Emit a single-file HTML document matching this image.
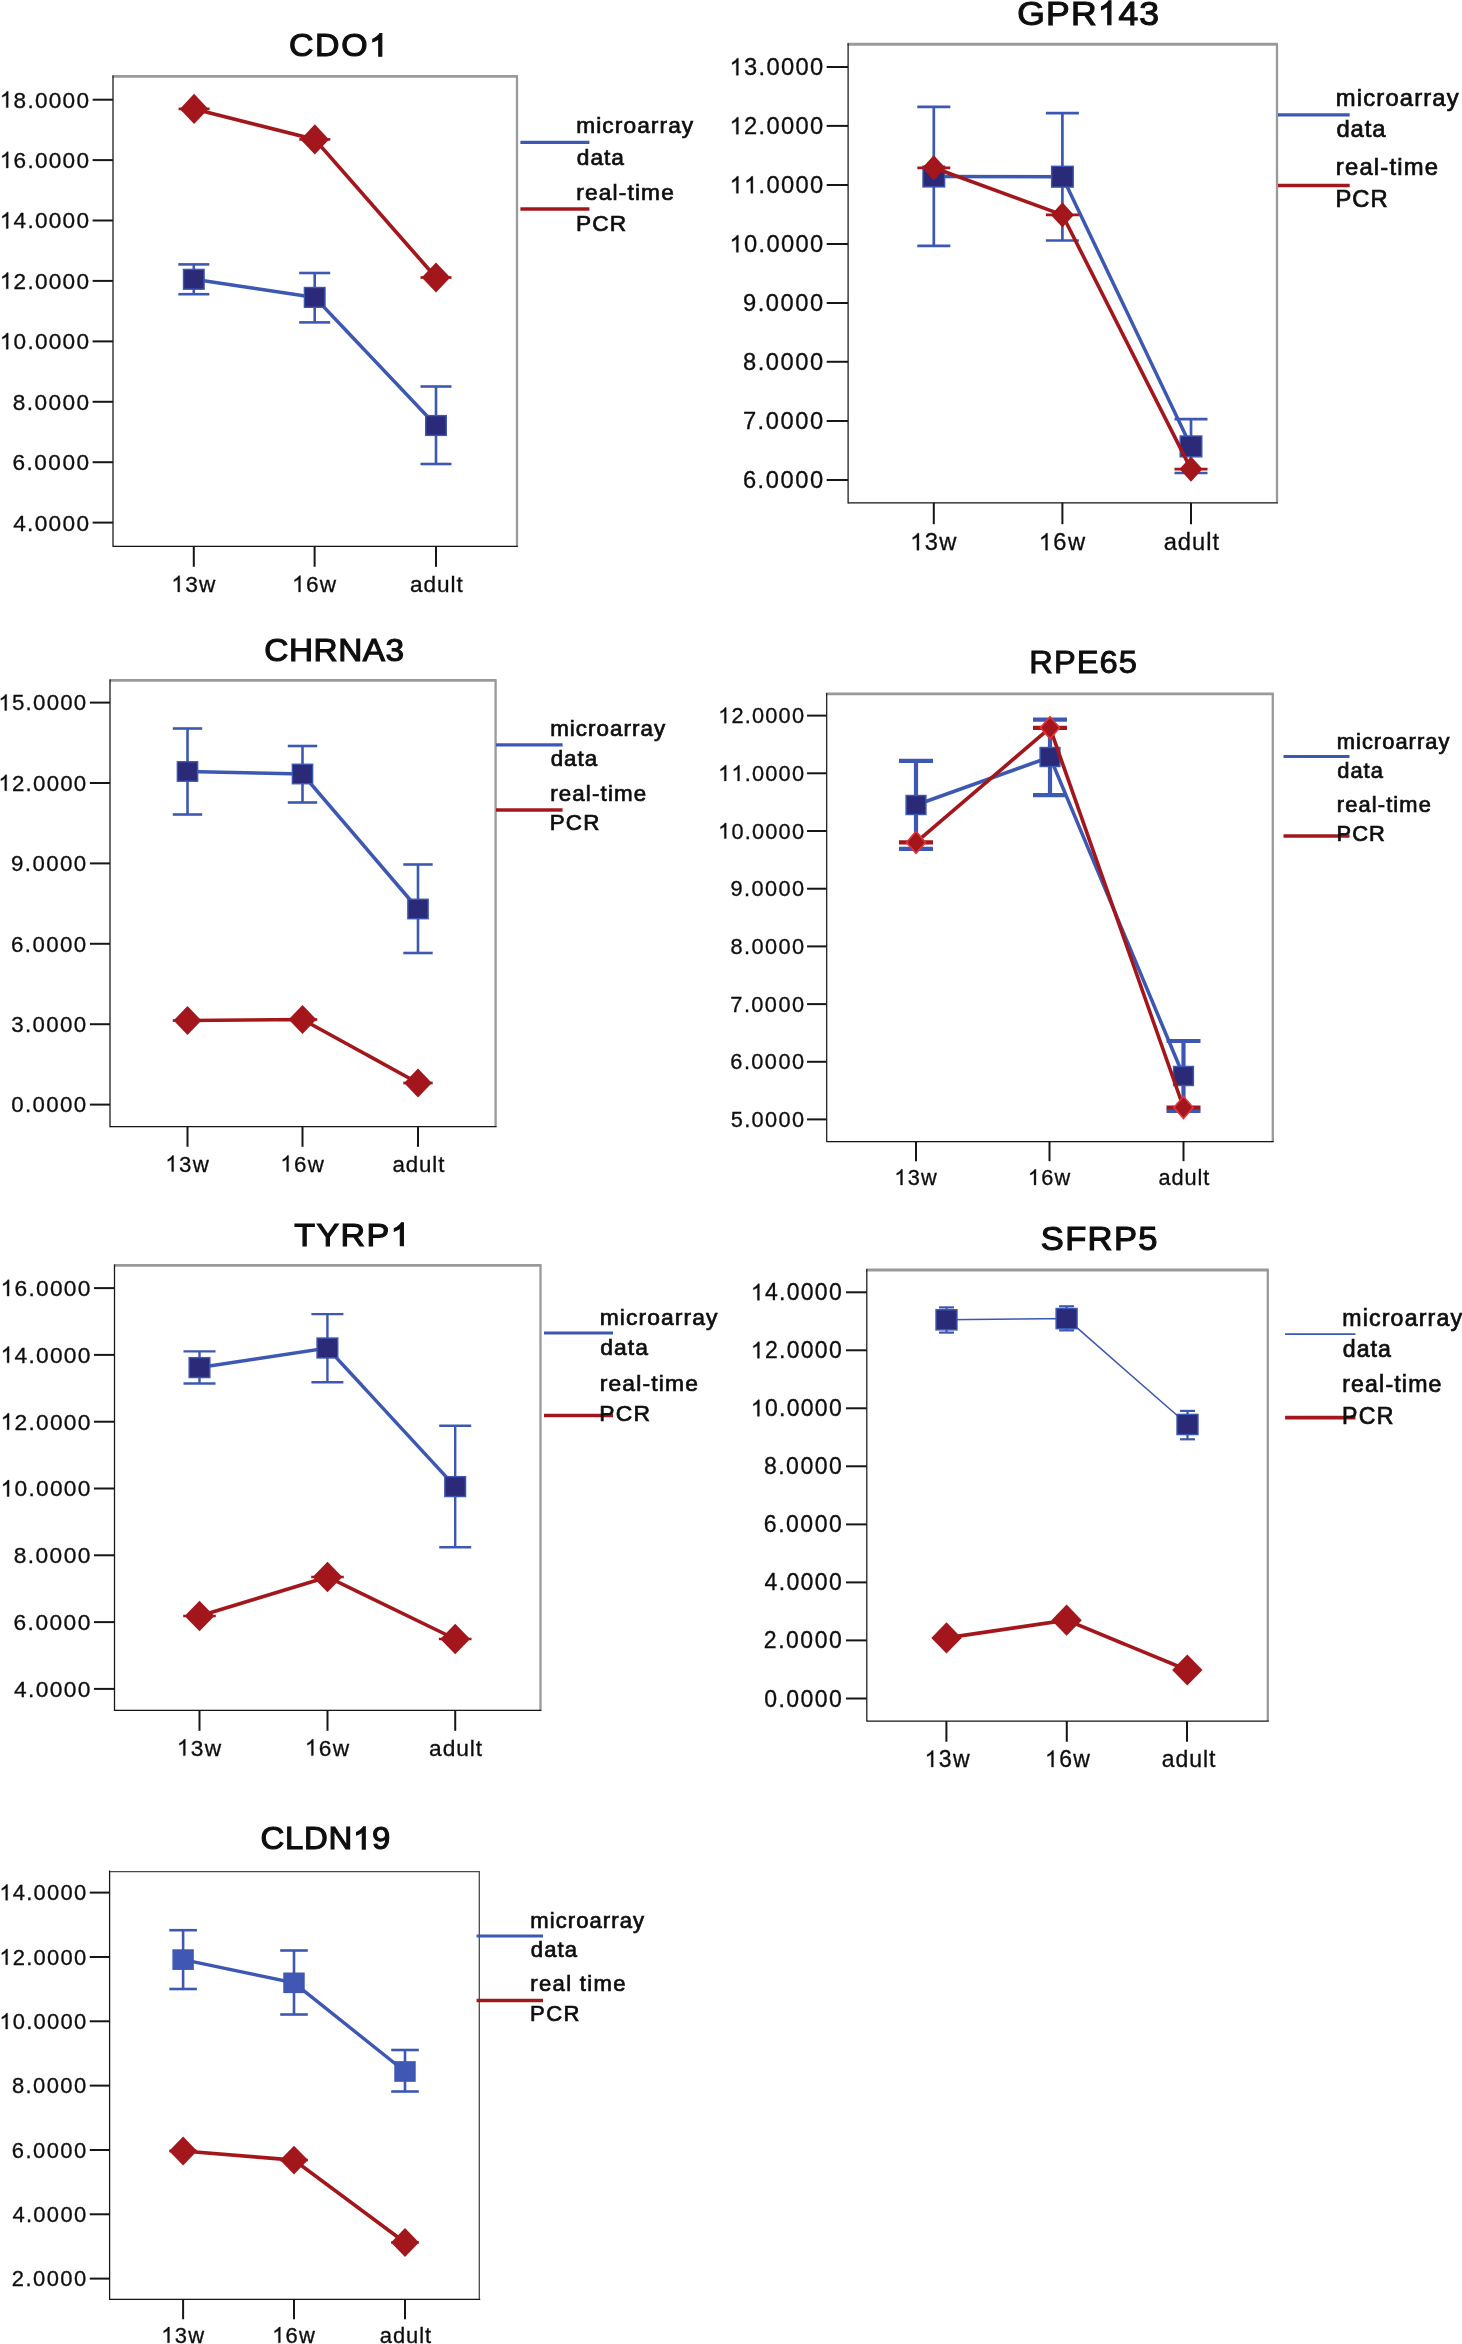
<!DOCTYPE html>
<html><head><meta charset="utf-8"><title>Figure</title>
<style>
html,body{margin:0;padding:0;background:#fff;}
body{width:1462px;height:2344px;overflow:hidden;}
svg{display:block;}
svg text{font-family:"Liberation Sans",sans-serif;white-space:pre;}
</style></head><body>
<svg width="1462" height="2344" viewBox="0 0 1462 2344">
<rect width="1462" height="2344" fill="#fff"/>
<g filter="url(#soft)">
<line x1="112.40" y1="76.40" x2="518.00" y2="76.40" stroke="#9a9a9a" stroke-width="2.9" stroke-linecap="butt"/>
<line x1="517.00" y1="76.40" x2="517.00" y2="546.40" stroke="#9a9a9a" stroke-width="2.3" stroke-linecap="butt"/>
<line x1="113.00" y1="75.40" x2="113.00" y2="547.00" stroke="#161616" stroke-width="1.25" stroke-linecap="butt"/>
<line x1="113.00" y1="546.40" x2="517.90" y2="546.40" stroke="#161616" stroke-width="1.25" stroke-linecap="butt"/>
<text transform="translate(288.95,56.30) scale(1.0650,1)" x="0.00 24.51 49.01 75.29" y="0" font-size="31.80" fill="#0a0a0a" stroke="#0a0a0a" stroke-width="1.1">CDO </text>
<path d="M763 0L583 0L583 1147Q518 1085 412.5 1023Q307 961 223 930L223 1104Q374 1175 487 1276Q600 1377 647 1472L763 1472Z" transform="translate(369.13,56.30) scale(0.01654,-0.01553)" fill="#0a0a0a" stroke="#0a0a0a" stroke-width="70.8"/>
<line x1="92.60" y1="99.70" x2="113.00" y2="99.70" stroke="#161616" stroke-width="2.0" stroke-linecap="butt"/>
<text x="-0.21 13.61 27.44 34.97 48.80 62.62 76.45" y="107.60" font-size="22.60" fill="#0d0d0d" stroke="#0d0d0d" stroke-width="0.3"> 8.0000</text>
<path d="M763 0L583 0L583 1147Q518 1085 412.5 1023Q307 961 223 930L223 1104Q374 1175 487 1276Q600 1377 647 1472L763 1472Z" transform="translate(-0.21,107.60) scale(0.01104,-0.01104)" fill="#0d0d0d" stroke="#0d0d0d" stroke-width="27.2"/>
<line x1="92.60" y1="160.10" x2="113.00" y2="160.10" stroke="#161616" stroke-width="2.0" stroke-linecap="butt"/>
<text x="-0.21 13.61 27.44 34.97 48.80 62.62 76.45" y="168.00" font-size="22.60" fill="#0d0d0d" stroke="#0d0d0d" stroke-width="0.3"> 6.0000</text>
<path d="M763 0L583 0L583 1147Q518 1085 412.5 1023Q307 961 223 930L223 1104Q374 1175 487 1276Q600 1377 647 1472L763 1472Z" transform="translate(-0.21,168.00) scale(0.01104,-0.01104)" fill="#0d0d0d" stroke="#0d0d0d" stroke-width="27.2"/>
<line x1="92.60" y1="220.50" x2="113.00" y2="220.50" stroke="#161616" stroke-width="2.0" stroke-linecap="butt"/>
<text x="-0.21 13.61 27.44 34.97 48.80 62.62 76.45" y="228.40" font-size="22.60" fill="#0d0d0d" stroke="#0d0d0d" stroke-width="0.3"> 4.0000</text>
<path d="M763 0L583 0L583 1147Q518 1085 412.5 1023Q307 961 223 930L223 1104Q374 1175 487 1276Q600 1377 647 1472L763 1472Z" transform="translate(-0.21,228.40) scale(0.01104,-0.01104)" fill="#0d0d0d" stroke="#0d0d0d" stroke-width="27.2"/>
<line x1="92.60" y1="280.90" x2="113.00" y2="280.90" stroke="#161616" stroke-width="2.0" stroke-linecap="butt"/>
<text x="-0.21 13.61 27.44 34.97 48.80 62.62 76.45" y="288.80" font-size="22.60" fill="#0d0d0d" stroke="#0d0d0d" stroke-width="0.3"> 2.0000</text>
<path d="M763 0L583 0L583 1147Q518 1085 412.5 1023Q307 961 223 930L223 1104Q374 1175 487 1276Q600 1377 647 1472L763 1472Z" transform="translate(-0.21,288.80) scale(0.01104,-0.01104)" fill="#0d0d0d" stroke="#0d0d0d" stroke-width="27.2"/>
<line x1="92.60" y1="341.40" x2="113.00" y2="341.40" stroke="#161616" stroke-width="2.0" stroke-linecap="butt"/>
<text x="-0.21 13.61 27.44 34.97 48.80 62.62 76.45" y="349.30" font-size="22.60" fill="#0d0d0d" stroke="#0d0d0d" stroke-width="0.3"> 0.0000</text>
<path d="M763 0L583 0L583 1147Q518 1085 412.5 1023Q307 961 223 930L223 1104Q374 1175 487 1276Q600 1377 647 1472L763 1472Z" transform="translate(-0.21,349.30) scale(0.01104,-0.01104)" fill="#0d0d0d" stroke="#0d0d0d" stroke-width="27.2"/>
<line x1="92.60" y1="401.80" x2="113.00" y2="401.80" stroke="#161616" stroke-width="2.0" stroke-linecap="butt"/>
<text x="12.75 26.75 34.46 48.45 62.45 76.45" y="409.70" font-size="22.60" fill="#0d0d0d" stroke="#0d0d0d" stroke-width="0.3">8.0000</text>
<line x1="92.60" y1="462.20" x2="113.00" y2="462.20" stroke="#161616" stroke-width="2.0" stroke-linecap="butt"/>
<text x="12.55 26.59 34.34 48.37 62.41 76.45" y="470.10" font-size="22.60" fill="#0d0d0d" stroke="#0d0d0d" stroke-width="0.3">6.0000</text>
<line x1="92.60" y1="522.60" x2="113.00" y2="522.60" stroke="#161616" stroke-width="2.0" stroke-linecap="butt"/>
<text x="13.15 27.07 34.70 48.61 62.53 76.45" y="530.50" font-size="22.60" fill="#0d0d0d" stroke="#0d0d0d" stroke-width="0.3">4.0000</text>
<line x1="193.80" y1="546.40" x2="193.80" y2="566.80" stroke="#161616" stroke-width="2.0" stroke-linecap="butt"/>
<text x="171.29 185.17 199.05" y="591.90" font-size="22.60" fill="#0d0d0d" stroke="#0d0d0d" stroke-width="0.3"> 3w</text>
<path d="M763 0L583 0L583 1147Q518 1085 412.5 1023Q307 961 223 930L223 1104Q374 1175 487 1276Q600 1377 647 1472L763 1472Z" transform="translate(171.29,591.90) scale(0.01104,-0.01104)" fill="#0d0d0d" stroke="#0d0d0d" stroke-width="27.2"/>
<line x1="314.60" y1="546.40" x2="314.60" y2="566.80" stroke="#161616" stroke-width="2.0" stroke-linecap="butt"/>
<text x="292.09 305.97 319.85" y="591.90" font-size="22.60" fill="#0d0d0d" stroke="#0d0d0d" stroke-width="0.3"> 6w</text>
<path d="M763 0L583 0L583 1147Q518 1085 412.5 1023Q307 961 223 930L223 1104Q374 1175 487 1276Q600 1377 647 1472L763 1472Z" transform="translate(292.09,591.90) scale(0.01104,-0.01104)" fill="#0d0d0d" stroke="#0d0d0d" stroke-width="27.2"/>
<line x1="436.00" y1="546.40" x2="436.00" y2="566.80" stroke="#161616" stroke-width="2.0" stroke-linecap="butt"/>
<text x="410.05 423.54 437.02 450.51 456.45" y="591.90" font-size="22.60" fill="#0d0d0d" stroke="#0d0d0d" stroke-width="0.3">adult</text>
<line x1="193.80" y1="264.40" x2="193.80" y2="294.20" stroke="#3d58b2" stroke-width="2.6" stroke-linecap="butt"/>
<line x1="178.30" y1="264.40" x2="209.30" y2="264.40" stroke="#3d58b2" stroke-width="2.6" stroke-linecap="butt"/>
<line x1="178.30" y1="294.20" x2="209.30" y2="294.20" stroke="#3d58b2" stroke-width="2.6" stroke-linecap="butt"/>
<line x1="314.70" y1="273.00" x2="314.70" y2="322.40" stroke="#3d58b2" stroke-width="2.6" stroke-linecap="butt"/>
<line x1="299.20" y1="273.00" x2="330.20" y2="273.00" stroke="#3d58b2" stroke-width="2.6" stroke-linecap="butt"/>
<line x1="299.20" y1="322.40" x2="330.20" y2="322.40" stroke="#3d58b2" stroke-width="2.6" stroke-linecap="butt"/>
<line x1="436.00" y1="386.50" x2="436.00" y2="464.00" stroke="#3d58b2" stroke-width="2.6" stroke-linecap="butt"/>
<line x1="420.50" y1="386.50" x2="451.50" y2="386.50" stroke="#3d58b2" stroke-width="2.6" stroke-linecap="butt"/>
<line x1="420.50" y1="464.00" x2="451.50" y2="464.00" stroke="#3d58b2" stroke-width="2.6" stroke-linecap="butt"/>
<polyline points="193.80,279.30 314.70,297.40 436.00,425.50" fill="none" stroke="#3d58b2" stroke-width="3.5"/>
<rect x="183.50" y="269.40" width="20.60" height="19.80" fill="#2a2b79" stroke="#3d58b2" stroke-width="1.4"/>
<rect x="304.40" y="287.50" width="20.60" height="19.80" fill="#2a2b79" stroke="#3d58b2" stroke-width="1.4"/>
<rect x="425.70" y="415.60" width="20.60" height="19.80" fill="#2a2b79" stroke="#3d58b2" stroke-width="1.4"/>
<polyline points="194.10,108.90 314.80,139.40 436.00,277.50" fill="none" stroke="#a3181c" stroke-width="3.6"/>
<line x1="178.60" y1="108.90" x2="209.60" y2="108.90" stroke="#a3181c" stroke-width="2.7" stroke-linecap="butt"/>
<polygon points="194.10,93.80 208.40,108.90 194.10,124.00 179.80,108.90" fill="#a3181c"/>
<line x1="299.30" y1="139.40" x2="330.30" y2="139.40" stroke="#a3181c" stroke-width="2.7" stroke-linecap="butt"/>
<polygon points="314.80,124.30 329.10,139.40 314.80,154.50 300.50,139.40" fill="#a3181c"/>
<line x1="420.50" y1="277.50" x2="451.50" y2="277.50" stroke="#a3181c" stroke-width="2.7" stroke-linecap="butt"/>
<polygon points="436.00,262.40 450.30,277.50 436.00,292.60 421.70,277.50" fill="#a3181c"/>
<line x1="520.40" y1="142.30" x2="589.40" y2="142.30" stroke="#3d58b2" stroke-width="3.2" stroke-linecap="butt"/>
<line x1="520.40" y1="209.00" x2="589.40" y2="209.00" stroke="#a3181c" stroke-width="3.5" stroke-linecap="butt"/>
<text x="576.25 596.24 602.37 614.80 623.44 637.15 650.86 659.50 668.14 681.85" y="133.30" font-size="22.70" fill="#0c0c0c" stroke="#0c0c0c" stroke-width="0.7">microarray</text>
<text x="576.85 590.42 604.00 611.25" y="164.60" font-size="22.70" fill="#0c0c0c" stroke="#0c0c0c" stroke-width="0.7">data</text>
<text x="576.25 584.96 598.74 612.52 618.72 627.43 634.89 641.09 661.15" y="199.60" font-size="22.70" fill="#0c0c0c" stroke="#0c0c0c" stroke-width="0.7">real-time</text>
<text x="575.95 592.22 609.75" y="230.70" font-size="22.70" fill="#0c0c0c" stroke="#0c0c0c" stroke-width="0.7">PCR</text>
<line x1="847.50" y1="44.30" x2="1278.00" y2="44.30" stroke="#9a9a9a" stroke-width="2.9" stroke-linecap="butt"/>
<line x1="1277.00" y1="44.30" x2="1277.00" y2="502.80" stroke="#9a9a9a" stroke-width="2.3" stroke-linecap="butt"/>
<line x1="848.10" y1="43.30" x2="848.10" y2="503.40" stroke="#161616" stroke-width="1.25" stroke-linecap="butt"/>
<line x1="848.10" y1="502.80" x2="1277.90" y2="502.80" stroke="#161616" stroke-width="1.25" stroke-linecap="butt"/>
<text transform="translate(1017.35,24.80) scale(1.0650,1)" x="0.00 26.99 50.27 75.40 94.96 114.54" y="0" font-size="33.36" fill="#0a0a0a" stroke="#0a0a0a" stroke-width="1.1">GPR 43</text>
<path d="M763 0L583 0L583 1147Q518 1085 412.5 1023Q307 961 223 930L223 1104Q374 1175 487 1276Q600 1377 647 1472L763 1472Z" transform="translate(1097.65,24.80) scale(0.01735,-0.01629)" fill="#0a0a0a" stroke="#0a0a0a" stroke-width="67.5"/>
<line x1="826.70" y1="67.00" x2="848.10" y2="67.00" stroke="#161616" stroke-width="2.0" stroke-linecap="butt"/>
<text x="729.54 744.05 758.55 766.45 780.95 795.45 809.95" y="75.29" font-size="23.71" fill="#0d0d0d" stroke="#0d0d0d" stroke-width="0.3"> 3.0000</text>
<path d="M763 0L583 0L583 1147Q518 1085 412.5 1023Q307 961 223 930L223 1104Q374 1175 487 1276Q600 1377 647 1472L763 1472Z" transform="translate(729.54,75.29) scale(0.01158,-0.01158)" fill="#0d0d0d" stroke="#0d0d0d" stroke-width="25.9"/>
<line x1="826.70" y1="125.90" x2="848.10" y2="125.90" stroke="#161616" stroke-width="2.0" stroke-linecap="butt"/>
<text x="729.54 744.05 758.55 766.45 780.95 795.45 809.95" y="134.19" font-size="23.71" fill="#0d0d0d" stroke="#0d0d0d" stroke-width="0.3"> 2.0000</text>
<path d="M763 0L583 0L583 1147Q518 1085 412.5 1023Q307 961 223 930L223 1104Q374 1175 487 1276Q600 1377 647 1472L763 1472Z" transform="translate(729.54,134.19) scale(0.01158,-0.01158)" fill="#0d0d0d" stroke="#0d0d0d" stroke-width="25.9"/>
<line x1="826.70" y1="185.00" x2="848.10" y2="185.00" stroke="#161616" stroke-width="2.0" stroke-linecap="butt"/>
<text x="729.54 744.05 758.55 766.45 780.95 795.45 809.95" y="193.29" font-size="23.71" fill="#0d0d0d" stroke="#0d0d0d" stroke-width="0.3">  .0000</text>
<path d="M763 0L583 0L583 1147Q518 1085 412.5 1023Q307 961 223 930L223 1104Q374 1175 487 1276Q600 1377 647 1472L763 1472Z" transform="translate(729.54,193.29) scale(0.01158,-0.01158)" fill="#0d0d0d" stroke="#0d0d0d" stroke-width="25.9"/>
<path d="M763 0L583 0L583 1147Q518 1085 412.5 1023Q307 961 223 930L223 1104Q374 1175 487 1276Q600 1377 647 1472L763 1472Z" transform="translate(744.05,193.29) scale(0.01158,-0.01158)" fill="#0d0d0d" stroke="#0d0d0d" stroke-width="25.9"/>
<line x1="826.70" y1="244.00" x2="848.10" y2="244.00" stroke="#161616" stroke-width="2.0" stroke-linecap="butt"/>
<text x="729.54 744.05 758.55 766.45 780.95 795.45 809.95" y="252.29" font-size="23.71" fill="#0d0d0d" stroke="#0d0d0d" stroke-width="0.3"> 0.0000</text>
<path d="M763 0L583 0L583 1147Q518 1085 412.5 1023Q307 961 223 930L223 1104Q374 1175 487 1276Q600 1377 647 1472L763 1472Z" transform="translate(729.54,252.29) scale(0.01158,-0.01158)" fill="#0d0d0d" stroke="#0d0d0d" stroke-width="25.9"/>
<line x1="826.70" y1="303.00" x2="848.10" y2="303.00" stroke="#161616" stroke-width="2.0" stroke-linecap="butt"/>
<text x="742.99 757.70 765.81 780.53 795.24 809.95" y="311.29" font-size="23.71" fill="#0d0d0d" stroke="#0d0d0d" stroke-width="0.3">9.0000</text>
<line x1="826.70" y1="361.80" x2="848.10" y2="361.80" stroke="#161616" stroke-width="2.0" stroke-linecap="butt"/>
<text x="743.09 757.78 765.87 780.57 795.26 809.95" y="370.09" font-size="23.71" fill="#0d0d0d" stroke="#0d0d0d" stroke-width="0.3">8.0000</text>
<line x1="826.70" y1="421.00" x2="848.10" y2="421.00" stroke="#161616" stroke-width="2.0" stroke-linecap="butt"/>
<text x="742.89 757.62 765.75 780.49 795.22 809.95" y="429.29" font-size="23.71" fill="#0d0d0d" stroke="#0d0d0d" stroke-width="0.3">7.0000</text>
<line x1="826.70" y1="480.00" x2="848.10" y2="480.00" stroke="#161616" stroke-width="2.0" stroke-linecap="butt"/>
<text x="742.89 757.62 765.75 780.49 795.22 809.95" y="488.29" font-size="23.71" fill="#0d0d0d" stroke="#0d0d0d" stroke-width="0.3">6.0000</text>
<line x1="933.80" y1="502.80" x2="933.80" y2="524.20" stroke="#161616" stroke-width="2.0" stroke-linecap="butt"/>
<text x="910.14 924.71 939.28" y="550.20" font-size="23.71" fill="#0d0d0d" stroke="#0d0d0d" stroke-width="0.3"> 3w</text>
<path d="M763 0L583 0L583 1147Q518 1085 412.5 1023Q307 961 223 930L223 1104Q374 1175 487 1276Q600 1377 647 1472L763 1472Z" transform="translate(910.14,550.20) scale(0.01158,-0.01158)" fill="#0d0d0d" stroke="#0d0d0d" stroke-width="25.9"/>
<line x1="1062.40" y1="502.80" x2="1062.40" y2="524.20" stroke="#161616" stroke-width="2.0" stroke-linecap="butt"/>
<text x="1038.74 1053.31 1067.88" y="550.20" font-size="23.71" fill="#0d0d0d" stroke="#0d0d0d" stroke-width="0.3"> 6w</text>
<path d="M763 0L583 0L583 1147Q518 1085 412.5 1023Q307 961 223 930L223 1104Q374 1175 487 1276Q600 1377 647 1472L763 1472Z" transform="translate(1038.74,550.20) scale(0.01158,-0.01158)" fill="#0d0d0d" stroke="#0d0d0d" stroke-width="25.9"/>
<line x1="1191.00" y1="502.80" x2="1191.00" y2="524.20" stroke="#161616" stroke-width="2.0" stroke-linecap="butt"/>
<text x="1163.68 1177.84 1192.01 1206.17 1212.42" y="550.20" font-size="23.71" fill="#0d0d0d" stroke="#0d0d0d" stroke-width="0.3">adult</text>
<line x1="933.80" y1="106.80" x2="933.80" y2="245.80" stroke="#3d58b2" stroke-width="2.7" stroke-linecap="butt"/>
<line x1="917.30" y1="106.80" x2="950.30" y2="106.80" stroke="#3d58b2" stroke-width="2.7" stroke-linecap="butt"/>
<line x1="917.30" y1="245.80" x2="950.30" y2="245.80" stroke="#3d58b2" stroke-width="2.7" stroke-linecap="butt"/>
<line x1="1062.40" y1="113.20" x2="1062.40" y2="240.50" stroke="#3d58b2" stroke-width="2.7" stroke-linecap="butt"/>
<line x1="1045.90" y1="113.20" x2="1078.90" y2="113.20" stroke="#3d58b2" stroke-width="2.7" stroke-linecap="butt"/>
<line x1="1045.90" y1="240.50" x2="1078.90" y2="240.50" stroke="#3d58b2" stroke-width="2.7" stroke-linecap="butt"/>
<line x1="1191.00" y1="419.20" x2="1191.00" y2="473.00" stroke="#3d58b2" stroke-width="2.7" stroke-linecap="butt"/>
<line x1="1174.50" y1="419.20" x2="1207.50" y2="419.20" stroke="#3d58b2" stroke-width="2.7" stroke-linecap="butt"/>
<line x1="1174.50" y1="473.00" x2="1207.50" y2="473.00" stroke="#3d58b2" stroke-width="2.7" stroke-linecap="butt"/>
<polyline points="933.80,176.50 1062.40,176.70 1191.00,446.40" fill="none" stroke="#3d58b2" stroke-width="3.5"/>
<rect x="923.00" y="166.10" width="21.61" height="20.81" fill="#2a2b79" stroke="#3d58b2" stroke-width="1.4"/>
<rect x="1051.60" y="166.30" width="21.61" height="20.81" fill="#2a2b79" stroke="#3d58b2" stroke-width="1.4"/>
<rect x="1180.20" y="436.00" width="21.61" height="20.81" fill="#2a2b79" stroke="#3d58b2" stroke-width="1.4"/>
<polyline points="933.80,167.80 1062.40,214.90 1191.00,469.10" fill="none" stroke="#a3181c" stroke-width="3.6"/>
<line x1="917.30" y1="167.80" x2="950.30" y2="167.80" stroke="#a3181c" stroke-width="2.7" stroke-linecap="butt"/>
<polygon points="933.80,155.20 945.30,167.80 933.80,180.40 922.30,167.80" fill="#a3181c"/>
<line x1="1045.90" y1="214.90" x2="1078.90" y2="214.90" stroke="#a3181c" stroke-width="2.7" stroke-linecap="butt"/>
<polygon points="1062.40,202.30 1073.90,214.90 1062.40,227.50 1050.90,214.90" fill="#a3181c"/>
<line x1="1174.50" y1="469.10" x2="1207.50" y2="469.10" stroke="#a3181c" stroke-width="2.7" stroke-linecap="butt"/>
<polygon points="1191.00,456.50 1202.50,469.10 1191.00,481.70 1179.50,469.10" fill="#a3181c"/>
<line x1="1278.00" y1="114.90" x2="1349.70" y2="114.90" stroke="#3d58b2" stroke-width="3.2" stroke-linecap="butt"/>
<line x1="1278.00" y1="185.40" x2="1349.70" y2="185.40" stroke="#a3181c" stroke-width="3.5" stroke-linecap="butt"/>
<text x="1335.85 1356.79 1363.26 1376.32 1385.41 1399.79 1414.18 1423.27 1432.37 1446.75" y="105.70" font-size="23.81" fill="#0c0c0c" stroke="#0c0c0c" stroke-width="0.7">microarray</text>
<text x="1336.45 1350.62 1364.78 1372.35" y="137.30" font-size="23.81" fill="#0c0c0c" stroke="#0c0c0c" stroke-width="0.7">data</text>
<text x="1335.85 1344.99 1359.42 1373.85 1380.37 1389.51 1397.34 1403.86 1424.85" y="174.50" font-size="23.81" fill="#0c0c0c" stroke="#0c0c0c" stroke-width="0.7">real-time</text>
<text x="1335.45 1352.30 1370.45" y="206.50" font-size="23.81" fill="#0c0c0c" stroke="#0c0c0c" stroke-width="0.7">PCR</text>
<line x1="109.40" y1="680.40" x2="496.60" y2="680.40" stroke="#9a9a9a" stroke-width="2.9" stroke-linecap="butt"/>
<line x1="495.60" y1="680.40" x2="495.60" y2="1126.70" stroke="#9a9a9a" stroke-width="2.3" stroke-linecap="butt"/>
<line x1="110.00" y1="679.40" x2="110.00" y2="1127.30" stroke="#161616" stroke-width="1.25" stroke-linecap="butt"/>
<line x1="110.00" y1="1126.70" x2="496.50" y2="1126.70" stroke="#161616" stroke-width="1.25" stroke-linecap="butt"/>
<text transform="translate(264.35,660.60) scale(1.0650,1)" x="0.00 23.10 46.19 69.29 92.39 113.76" y="0" font-size="31.32" fill="#0a0a0a" stroke="#0a0a0a" stroke-width="1.1">CHRNA3</text>
<line x1="89.91" y1="702.60" x2="110.00" y2="702.60" stroke="#161616" stroke-width="2.0" stroke-linecap="butt"/>
<text x="-1.58 12.01 25.62 33.03 46.64 60.25 73.86" y="710.38" font-size="22.26" fill="#0d0d0d" stroke="#0d0d0d" stroke-width="0.3"> 5.0000</text>
<path d="M763 0L583 0L583 1147Q518 1085 412.5 1023Q307 961 223 930L223 1104Q374 1175 487 1276Q600 1377 647 1472L763 1472Z" transform="translate(-1.58,710.38) scale(0.01087,-0.01087)" fill="#0d0d0d" stroke="#0d0d0d" stroke-width="27.6"/>
<line x1="89.91" y1="783.00" x2="110.00" y2="783.00" stroke="#161616" stroke-width="2.0" stroke-linecap="butt"/>
<text x="-1.58 12.01 25.62 33.03 46.64 60.25 73.86" y="790.78" font-size="22.26" fill="#0d0d0d" stroke="#0d0d0d" stroke-width="0.3"> 2.0000</text>
<path d="M763 0L583 0L583 1147Q518 1085 412.5 1023Q307 961 223 930L223 1104Q374 1175 487 1276Q600 1377 647 1472L763 1472Z" transform="translate(-1.58,790.78) scale(0.01087,-0.01087)" fill="#0d0d0d" stroke="#0d0d0d" stroke-width="27.6"/>
<line x1="89.91" y1="863.40" x2="110.00" y2="863.40" stroke="#161616" stroke-width="2.0" stroke-linecap="butt"/>
<text x="11.08 24.87 32.47 46.26 60.06 73.86" y="871.18" font-size="22.26" fill="#0d0d0d" stroke="#0d0d0d" stroke-width="0.3">9.0000</text>
<line x1="89.91" y1="943.80" x2="110.00" y2="943.80" stroke="#161616" stroke-width="2.0" stroke-linecap="butt"/>
<text x="10.98 24.79 32.41 46.22 60.04 73.86" y="951.58" font-size="22.26" fill="#0d0d0d" stroke="#0d0d0d" stroke-width="0.3">6.0000</text>
<line x1="89.91" y1="1024.20" x2="110.00" y2="1024.20" stroke="#161616" stroke-width="2.0" stroke-linecap="butt"/>
<text x="11.28 25.03 32.59 46.34 60.10 73.86" y="1031.98" font-size="22.26" fill="#0d0d0d" stroke="#0d0d0d" stroke-width="0.3">3.0000</text>
<line x1="89.91" y1="1104.60" x2="110.00" y2="1104.60" stroke="#161616" stroke-width="2.0" stroke-linecap="butt"/>
<text x="11.28 25.03 32.59 46.34 60.10 73.86" y="1112.38" font-size="22.26" fill="#0d0d0d" stroke="#0d0d0d" stroke-width="0.3">0.0000</text>
<line x1="187.50" y1="1126.70" x2="187.50" y2="1146.79" stroke="#161616" stroke-width="2.0" stroke-linecap="butt"/>
<text x="165.34 178.98 192.64" y="1171.50" font-size="22.26" fill="#0d0d0d" stroke="#0d0d0d" stroke-width="0.3"> 3w</text>
<path d="M763 0L583 0L583 1147Q518 1085 412.5 1023Q307 961 223 930L223 1104Q374 1175 487 1276Q600 1377 647 1472L763 1472Z" transform="translate(165.34,1171.50) scale(0.01087,-0.01087)" fill="#0d0d0d" stroke="#0d0d0d" stroke-width="27.6"/>
<line x1="302.50" y1="1126.70" x2="302.50" y2="1146.79" stroke="#161616" stroke-width="2.0" stroke-linecap="butt"/>
<text x="280.34 293.98 307.63" y="1171.50" font-size="22.26" fill="#0d0d0d" stroke="#0d0d0d" stroke-width="0.3"> 6w</text>
<path d="M763 0L583 0L583 1147Q518 1085 412.5 1023Q307 961 223 930L223 1104Q374 1175 487 1276Q600 1377 647 1472L763 1472Z" transform="translate(280.34,1171.50) scale(0.01087,-0.01087)" fill="#0d0d0d" stroke="#0d0d0d" stroke-width="27.6"/>
<line x1="418.00" y1="1126.70" x2="418.00" y2="1146.79" stroke="#161616" stroke-width="2.0" stroke-linecap="butt"/>
<text x="392.44 405.73 419.02 432.32 438.16" y="1171.50" font-size="22.26" fill="#0d0d0d" stroke="#0d0d0d" stroke-width="0.3">adult</text>
<line x1="187.50" y1="728.50" x2="187.50" y2="814.50" stroke="#3d58b2" stroke-width="2.6" stroke-linecap="butt"/>
<line x1="172.80" y1="728.50" x2="202.20" y2="728.50" stroke="#3d58b2" stroke-width="2.6" stroke-linecap="butt"/>
<line x1="172.80" y1="814.50" x2="202.20" y2="814.50" stroke="#3d58b2" stroke-width="2.6" stroke-linecap="butt"/>
<line x1="302.50" y1="746.00" x2="302.50" y2="802.50" stroke="#3d58b2" stroke-width="2.6" stroke-linecap="butt"/>
<line x1="287.80" y1="746.00" x2="317.20" y2="746.00" stroke="#3d58b2" stroke-width="2.6" stroke-linecap="butt"/>
<line x1="287.80" y1="802.50" x2="317.20" y2="802.50" stroke="#3d58b2" stroke-width="2.6" stroke-linecap="butt"/>
<line x1="418.00" y1="864.50" x2="418.00" y2="953.00" stroke="#3d58b2" stroke-width="2.6" stroke-linecap="butt"/>
<line x1="403.30" y1="864.50" x2="432.70" y2="864.50" stroke="#3d58b2" stroke-width="2.6" stroke-linecap="butt"/>
<line x1="403.30" y1="953.00" x2="432.70" y2="953.00" stroke="#3d58b2" stroke-width="2.6" stroke-linecap="butt"/>
<polyline points="187.50,771.50 302.50,774.00 418.00,909.00" fill="none" stroke="#3d58b2" stroke-width="3.5"/>
<rect x="177.35" y="761.75" width="20.29" height="19.49" fill="#2a2b79" stroke="#3d58b2" stroke-width="1.4"/>
<rect x="292.35" y="764.25" width="20.29" height="19.49" fill="#2a2b79" stroke="#3d58b2" stroke-width="1.4"/>
<rect x="407.85" y="899.25" width="20.29" height="19.49" fill="#2a2b79" stroke="#3d58b2" stroke-width="1.4"/>
<polyline points="187.50,1020.50 302.50,1019.50 418.00,1083.00" fill="none" stroke="#a3181c" stroke-width="3.6"/>
<line x1="172.80" y1="1020.50" x2="202.20" y2="1020.50" stroke="#a3181c" stroke-width="2.7" stroke-linecap="butt"/>
<polygon points="187.50,1006.00 201.40,1020.50 187.50,1035.00 173.60,1020.50" fill="#a3181c"/>
<line x1="287.80" y1="1019.50" x2="317.20" y2="1019.50" stroke="#a3181c" stroke-width="2.7" stroke-linecap="butt"/>
<polygon points="302.50,1005.00 316.40,1019.50 302.50,1034.00 288.60,1019.50" fill="#a3181c"/>
<line x1="403.30" y1="1083.00" x2="432.70" y2="1083.00" stroke="#a3181c" stroke-width="2.7" stroke-linecap="butt"/>
<polygon points="418.00,1068.50 431.90,1083.00 418.00,1097.50 404.10,1083.00" fill="#a3181c"/>
<line x1="496.00" y1="744.90" x2="562.60" y2="744.90" stroke="#3d58b2" stroke-width="3.2" stroke-linecap="butt"/>
<line x1="496.00" y1="810.10" x2="562.60" y2="810.10" stroke="#a3181c" stroke-width="3.5" stroke-linecap="butt"/>
<text x="550.15 569.81 575.84 588.08 596.58 610.07 623.55 632.06 640.57 654.05" y="736.00" font-size="22.36" fill="#0c0c0c" stroke="#0c0c0c" stroke-width="0.7">microarray</text>
<text x="550.65 564.09 577.52 584.75" y="766.00" font-size="22.36" fill="#0c0c0c" stroke="#0c0c0c" stroke-width="0.7">data</text>
<text x="550.15 558.73 572.29 585.85 591.97 600.55 607.90 614.02 633.75" y="801.00" font-size="22.36" fill="#0c0c0c" stroke="#0c0c0c" stroke-width="0.7">real-time</text>
<text x="549.75 565.83 583.15" y="830.00" font-size="22.36" fill="#0c0c0c" stroke="#0c0c0c" stroke-width="0.7">PCR</text>
<line x1="826.10" y1="693.90" x2="1273.80" y2="693.90" stroke="#9a9a9a" stroke-width="2.9" stroke-linecap="butt"/>
<line x1="1272.80" y1="693.90" x2="1272.80" y2="1141.50" stroke="#9a9a9a" stroke-width="2.3" stroke-linecap="butt"/>
<line x1="826.70" y1="692.90" x2="826.70" y2="1142.10" stroke="#161616" stroke-width="1.25" stroke-linecap="butt"/>
<line x1="826.70" y1="1141.50" x2="1273.70" y2="1141.50" stroke="#161616" stroke-width="1.25" stroke-linecap="butt"/>
<text transform="translate(1029.29,672.90) scale(1.0650,1)" x="0.00 23.13 44.58 66.02 84.07" y="0" font-size="30.62" fill="#0a0a0a" stroke="#0a0a0a" stroke-width="0.9">RPE65</text>
<line x1="807.05" y1="715.60" x2="826.70" y2="715.60" stroke="#161616" stroke-width="2.0" stroke-linecap="butt"/>
<text x="718.12 731.41 744.73 751.97 765.28 778.59 791.90" y="723.21" font-size="21.76" fill="#0d0d0d" stroke="#0d0d0d" stroke-width="0.3"> 2.0000</text>
<path d="M763 0L583 0L583 1147Q518 1085 412.5 1023Q307 961 223 930L223 1104Q374 1175 487 1276Q600 1377 647 1472L763 1472Z" transform="translate(718.12,723.21) scale(0.01063,-0.01063)" fill="#0d0d0d" stroke="#0d0d0d" stroke-width="28.2"/>
<line x1="807.05" y1="773.30" x2="826.70" y2="773.30" stroke="#161616" stroke-width="2.0" stroke-linecap="butt"/>
<text x="718.12 731.42 744.71 751.96 765.28 778.59 791.90" y="780.91" font-size="21.76" fill="#0d0d0d" stroke="#0d0d0d" stroke-width="0.3">  .0000</text>
<path d="M763 0L583 0L583 1147Q518 1085 412.5 1023Q307 961 223 930L223 1104Q374 1175 487 1276Q600 1377 647 1472L763 1472Z" transform="translate(718.12,780.91) scale(0.01063,-0.01063)" fill="#0d0d0d" stroke="#0d0d0d" stroke-width="28.2"/>
<path d="M763 0L583 0L583 1147Q518 1085 412.5 1023Q307 961 223 930L223 1104Q374 1175 487 1276Q600 1377 647 1472L763 1472Z" transform="translate(731.42,780.91) scale(0.01063,-0.01063)" fill="#0d0d0d" stroke="#0d0d0d" stroke-width="28.2"/>
<line x1="807.05" y1="831.00" x2="826.70" y2="831.00" stroke="#161616" stroke-width="2.0" stroke-linecap="butt"/>
<text x="718.12 731.41 744.73 751.97 765.28 778.59 791.90" y="838.61" font-size="21.76" fill="#0d0d0d" stroke="#0d0d0d" stroke-width="0.3"> 0.0000</text>
<path d="M763 0L583 0L583 1147Q518 1085 412.5 1023Q307 961 223 930L223 1104Q374 1175 487 1276Q600 1377 647 1472L763 1472Z" transform="translate(718.12,838.61) scale(0.01063,-0.01063)" fill="#0d0d0d" stroke="#0d0d0d" stroke-width="28.2"/>
<line x1="807.05" y1="888.70" x2="826.70" y2="888.70" stroke="#161616" stroke-width="2.0" stroke-linecap="butt"/>
<text x="730.47 743.97 751.41 764.90 778.40 791.90" y="896.31" font-size="21.76" fill="#0d0d0d" stroke="#0d0d0d" stroke-width="0.3">9.0000</text>
<line x1="807.05" y1="946.40" x2="826.70" y2="946.40" stroke="#161616" stroke-width="2.0" stroke-linecap="butt"/>
<text x="730.57 744.05 751.47 764.94 778.42 791.90" y="954.01" font-size="21.76" fill="#0d0d0d" stroke="#0d0d0d" stroke-width="0.3">8.0000</text>
<line x1="807.05" y1="1004.10" x2="826.70" y2="1004.10" stroke="#161616" stroke-width="2.0" stroke-linecap="butt"/>
<text x="730.37 743.89 751.35 764.86 778.38 791.90" y="1011.71" font-size="21.76" fill="#0d0d0d" stroke="#0d0d0d" stroke-width="0.3">7.0000</text>
<line x1="807.05" y1="1061.80" x2="826.70" y2="1061.80" stroke="#161616" stroke-width="2.0" stroke-linecap="butt"/>
<text x="730.37 743.89 751.35 764.86 778.38 791.90" y="1069.41" font-size="21.76" fill="#0d0d0d" stroke="#0d0d0d" stroke-width="0.3">6.0000</text>
<line x1="807.05" y1="1119.40" x2="826.70" y2="1119.40" stroke="#161616" stroke-width="2.0" stroke-linecap="butt"/>
<text x="730.67 744.13 751.53 764.98 778.44 791.90" y="1127.01" font-size="21.76" fill="#0d0d0d" stroke="#0d0d0d" stroke-width="0.3">5.0000</text>
<line x1="916.00" y1="1141.50" x2="916.00" y2="1161.15" stroke="#161616" stroke-width="2.0" stroke-linecap="butt"/>
<text x="894.35 907.70 921.07" y="1185.00" font-size="21.76" fill="#0d0d0d" stroke="#0d0d0d" stroke-width="0.3"> 3w</text>
<path d="M763 0L583 0L583 1147Q518 1085 412.5 1023Q307 961 223 930L223 1104Q374 1175 487 1276Q600 1377 647 1472L763 1472Z" transform="translate(894.35,1185.00) scale(0.01063,-0.01063)" fill="#0d0d0d" stroke="#0d0d0d" stroke-width="28.2"/>
<line x1="1049.50" y1="1141.50" x2="1049.50" y2="1161.15" stroke="#161616" stroke-width="2.0" stroke-linecap="butt"/>
<text x="1027.85 1041.20 1054.57" y="1185.00" font-size="21.76" fill="#0d0d0d" stroke="#0d0d0d" stroke-width="0.3"> 6w</text>
<path d="M763 0L583 0L583 1147Q518 1085 412.5 1023Q307 961 223 930L223 1104Q374 1175 487 1276Q600 1377 647 1472L763 1472Z" transform="translate(1027.85,1185.00) scale(0.01063,-0.01063)" fill="#0d0d0d" stroke="#0d0d0d" stroke-width="28.2"/>
<line x1="1183.50" y1="1141.50" x2="1183.50" y2="1161.15" stroke="#161616" stroke-width="2.0" stroke-linecap="butt"/>
<text x="1158.51 1171.53 1184.54 1197.55 1203.29" y="1185.00" font-size="21.76" fill="#0d0d0d" stroke="#0d0d0d" stroke-width="0.3">adult</text>
<line x1="916.00" y1="760.90" x2="916.00" y2="848.80" stroke="#3d58b2" stroke-width="4.2" stroke-linecap="butt"/>
<line x1="899.00" y1="760.90" x2="933.00" y2="760.90" stroke="#3d58b2" stroke-width="4.2" stroke-linecap="butt"/>
<line x1="899.00" y1="848.80" x2="933.00" y2="848.80" stroke="#3d58b2" stroke-width="4.2" stroke-linecap="butt"/>
<line x1="1050.00" y1="719.60" x2="1050.00" y2="795.10" stroke="#3d58b2" stroke-width="4.2" stroke-linecap="butt"/>
<line x1="1033.00" y1="719.60" x2="1067.00" y2="719.60" stroke="#3d58b2" stroke-width="4.2" stroke-linecap="butt"/>
<line x1="1033.00" y1="795.10" x2="1067.00" y2="795.10" stroke="#3d58b2" stroke-width="4.2" stroke-linecap="butt"/>
<line x1="1183.50" y1="1041.00" x2="1183.50" y2="1111.00" stroke="#3d58b2" stroke-width="4.2" stroke-linecap="butt"/>
<line x1="1166.50" y1="1041.00" x2="1200.50" y2="1041.00" stroke="#3d58b2" stroke-width="4.2" stroke-linecap="butt"/>
<line x1="1166.50" y1="1111.00" x2="1200.50" y2="1111.00" stroke="#3d58b2" stroke-width="4.2" stroke-linecap="butt"/>
<polyline points="916.00,805.00 1050.00,757.00 1183.50,1076.00" fill="none" stroke="#3d58b2" stroke-width="3.5"/>
<rect x="906.08" y="795.48" width="19.84" height="19.04" fill="#2a2b79" stroke="#3d58b2" stroke-width="1.4"/>
<rect x="1040.08" y="747.48" width="19.84" height="19.04" fill="#2a2b79" stroke="#3d58b2" stroke-width="1.4"/>
<rect x="1173.58" y="1066.48" width="19.84" height="19.04" fill="#2a2b79" stroke="#3d58b2" stroke-width="1.4"/>
<polyline points="916.00,842.40 1050.00,727.80 1183.50,1107.50" fill="none" stroke="#a3181c" stroke-width="3.6"/>
<line x1="899.00" y1="842.40" x2="933.00" y2="842.40" stroke="#a3181c" stroke-width="4.2" stroke-linecap="butt"/>
<polygon points="916.00,831.40 925.60,842.40 916.00,853.40 906.40,842.40" fill="#a3181c" stroke="#e2343c" stroke-width="1.6"/>
<line x1="1033.00" y1="727.80" x2="1067.00" y2="727.80" stroke="#a3181c" stroke-width="4.2" stroke-linecap="butt"/>
<polygon points="1050.00,716.80 1059.60,727.80 1050.00,738.80 1040.40,727.80" fill="#a3181c" stroke="#e2343c" stroke-width="1.6"/>
<line x1="1166.50" y1="1107.50" x2="1200.50" y2="1107.50" stroke="#a3181c" stroke-width="4.2" stroke-linecap="butt"/>
<polygon points="1183.50,1096.50 1193.10,1107.50 1183.50,1118.50 1173.90,1107.50" fill="#a3181c" stroke="#e2343c" stroke-width="1.6"/>
<line x1="1283.50" y1="756.50" x2="1349.50" y2="756.50" stroke="#3d58b2" stroke-width="3.0" stroke-linecap="butt"/>
<line x1="1283.50" y1="836.00" x2="1349.50" y2="836.00" stroke="#a3181c" stroke-width="3.4" stroke-linecap="butt"/>
<text x="1336.75 1355.98 1361.90 1373.87 1382.20 1395.40 1408.59 1416.92 1425.25 1438.45" y="748.50" font-size="21.86" fill="#0c0c0c" stroke="#0c0c0c" stroke-width="0.7">microarray</text>
<text x="1337.25 1350.41 1363.56 1370.65" y="778.00" font-size="21.86" fill="#0c0c0c" stroke="#0c0c0c" stroke-width="0.7">data</text>
<text x="1336.75 1345.16 1358.44 1371.72 1377.72 1386.13 1393.34 1399.34 1418.65" y="811.50" font-size="21.86" fill="#0c0c0c" stroke="#0c0c0c" stroke-width="0.7">real-time</text>
<text x="1336.45 1352.15 1369.05" y="841.00" font-size="21.86" fill="#0c0c0c" stroke="#0c0c0c" stroke-width="0.7">PCR</text>
<line x1="113.90" y1="1265.40" x2="541.50" y2="1265.40" stroke="#9a9a9a" stroke-width="2.9" stroke-linecap="butt"/>
<line x1="540.50" y1="1265.40" x2="540.50" y2="1710.30" stroke="#9a9a9a" stroke-width="2.3" stroke-linecap="butt"/>
<line x1="114.50" y1="1264.40" x2="114.50" y2="1710.90" stroke="#161616" stroke-width="1.25" stroke-linecap="butt"/>
<line x1="114.50" y1="1710.30" x2="541.40" y2="1710.30" stroke="#161616" stroke-width="1.25" stroke-linecap="butt"/>
<text transform="translate(294.30,1245.80) scale(1.0650,1)" x="0.00 20.83 43.45 67.84 90.47" y="0" font-size="31.99" fill="#0a0a0a" stroke="#0a0a0a" stroke-width="1.1">TYRP </text>
<path d="M763 0L583 0L583 1147Q518 1085 412.5 1023Q307 961 223 930L223 1104Q374 1175 487 1276Q600 1377 647 1472L763 1472Z" transform="translate(390.66,1245.80) scale(0.01664,-0.01562)" fill="#0a0a0a" stroke="#0a0a0a" stroke-width="70.4"/>
<line x1="93.98" y1="1288.10" x2="114.50" y2="1288.10" stroke="#161616" stroke-width="2.0" stroke-linecap="butt"/>
<text x="0.63 14.55 28.45 36.03 49.93 63.83 77.73" y="1296.05" font-size="22.74" fill="#0d0d0d" stroke="#0d0d0d" stroke-width="0.3"> 6.0000</text>
<path d="M763 0L583 0L583 1147Q518 1085 412.5 1023Q307 961 223 930L223 1104Q374 1175 487 1276Q600 1377 647 1472L763 1472Z" transform="translate(0.63,1296.05) scale(0.01110,-0.01110)" fill="#0d0d0d" stroke="#0d0d0d" stroke-width="27.0"/>
<line x1="93.98" y1="1354.90" x2="114.50" y2="1354.90" stroke="#161616" stroke-width="2.0" stroke-linecap="butt"/>
<text x="0.63 14.55 28.45 36.03 49.93 63.83 77.73" y="1362.85" font-size="22.74" fill="#0d0d0d" stroke="#0d0d0d" stroke-width="0.3"> 4.0000</text>
<path d="M763 0L583 0L583 1147Q518 1085 412.5 1023Q307 961 223 930L223 1104Q374 1175 487 1276Q600 1377 647 1472L763 1472Z" transform="translate(0.63,1362.85) scale(0.01110,-0.01110)" fill="#0d0d0d" stroke="#0d0d0d" stroke-width="27.0"/>
<line x1="93.98" y1="1421.70" x2="114.50" y2="1421.70" stroke="#161616" stroke-width="2.0" stroke-linecap="butt"/>
<text x="0.63 14.55 28.45 36.03 49.93 63.83 77.73" y="1429.65" font-size="22.74" fill="#0d0d0d" stroke="#0d0d0d" stroke-width="0.3"> 2.0000</text>
<path d="M763 0L583 0L583 1147Q518 1085 412.5 1023Q307 961 223 930L223 1104Q374 1175 487 1276Q600 1377 647 1472L763 1472Z" transform="translate(0.63,1429.65) scale(0.01110,-0.01110)" fill="#0d0d0d" stroke="#0d0d0d" stroke-width="27.0"/>
<line x1="93.98" y1="1488.50" x2="114.50" y2="1488.50" stroke="#161616" stroke-width="2.0" stroke-linecap="butt"/>
<text x="0.63 14.55 28.45 36.03 49.93 63.83 77.73" y="1496.45" font-size="22.74" fill="#0d0d0d" stroke="#0d0d0d" stroke-width="0.3"> 0.0000</text>
<path d="M763 0L583 0L583 1147Q518 1085 412.5 1023Q307 961 223 930L223 1104Q374 1175 487 1276Q600 1377 647 1472L763 1472Z" transform="translate(0.63,1496.45) scale(0.01110,-0.01110)" fill="#0d0d0d" stroke="#0d0d0d" stroke-width="27.0"/>
<line x1="93.98" y1="1555.30" x2="114.50" y2="1555.30" stroke="#161616" stroke-width="2.0" stroke-linecap="butt"/>
<text x="13.68 27.75 35.51 49.58 63.65 77.73" y="1563.25" font-size="22.74" fill="#0d0d0d" stroke="#0d0d0d" stroke-width="0.3">8.0000</text>
<line x1="93.98" y1="1622.10" x2="114.50" y2="1622.10" stroke="#161616" stroke-width="2.0" stroke-linecap="butt"/>
<text x="13.48 27.59 35.39 49.50 63.61 77.73" y="1630.05" font-size="22.74" fill="#0d0d0d" stroke="#0d0d0d" stroke-width="0.3">6.0000</text>
<line x1="93.98" y1="1688.90" x2="114.50" y2="1688.90" stroke="#161616" stroke-width="2.0" stroke-linecap="butt"/>
<text x="14.08 28.07 35.75 49.74 63.73 77.73" y="1696.85" font-size="22.74" fill="#0d0d0d" stroke="#0d0d0d" stroke-width="0.3">4.0000</text>
<line x1="199.50" y1="1710.30" x2="199.50" y2="1730.82" stroke="#161616" stroke-width="2.0" stroke-linecap="butt"/>
<text x="176.85 190.82 204.78" y="1755.60" font-size="22.74" fill="#0d0d0d" stroke="#0d0d0d" stroke-width="0.3"> 3w</text>
<path d="M763 0L583 0L583 1147Q518 1085 412.5 1023Q307 961 223 930L223 1104Q374 1175 487 1276Q600 1377 647 1472L763 1472Z" transform="translate(176.85,1755.60) scale(0.01110,-0.01110)" fill="#0d0d0d" stroke="#0d0d0d" stroke-width="27.0"/>
<line x1="327.50" y1="1710.30" x2="327.50" y2="1730.82" stroke="#161616" stroke-width="2.0" stroke-linecap="butt"/>
<text x="304.85 318.82 332.78" y="1755.60" font-size="22.74" fill="#0d0d0d" stroke="#0d0d0d" stroke-width="0.3"> 6w</text>
<path d="M763 0L583 0L583 1147Q518 1085 412.5 1023Q307 961 223 930L223 1104Q374 1175 487 1276Q600 1377 647 1472L763 1472Z" transform="translate(304.85,1755.60) scale(0.01110,-0.01110)" fill="#0d0d0d" stroke="#0d0d0d" stroke-width="27.0"/>
<line x1="455.20" y1="1710.30" x2="455.20" y2="1730.82" stroke="#161616" stroke-width="2.0" stroke-linecap="butt"/>
<text x="429.09 442.67 456.24 469.81 475.81" y="1755.60" font-size="22.74" fill="#0d0d0d" stroke="#0d0d0d" stroke-width="0.3">adult</text>
<line x1="199.50" y1="1351.40" x2="199.50" y2="1383.50" stroke="#3d58b2" stroke-width="2.4" stroke-linecap="butt"/>
<line x1="183.50" y1="1351.40" x2="215.50" y2="1351.40" stroke="#3d58b2" stroke-width="2.4" stroke-linecap="butt"/>
<line x1="183.50" y1="1383.50" x2="215.50" y2="1383.50" stroke="#3d58b2" stroke-width="2.4" stroke-linecap="butt"/>
<line x1="327.40" y1="1314.10" x2="327.40" y2="1382.30" stroke="#3d58b2" stroke-width="2.4" stroke-linecap="butt"/>
<line x1="311.40" y1="1314.10" x2="343.40" y2="1314.10" stroke="#3d58b2" stroke-width="2.4" stroke-linecap="butt"/>
<line x1="311.40" y1="1382.30" x2="343.40" y2="1382.30" stroke="#3d58b2" stroke-width="2.4" stroke-linecap="butt"/>
<line x1="455.20" y1="1425.70" x2="455.20" y2="1547.30" stroke="#3d58b2" stroke-width="2.4" stroke-linecap="butt"/>
<line x1="439.20" y1="1425.70" x2="471.20" y2="1425.70" stroke="#3d58b2" stroke-width="2.4" stroke-linecap="butt"/>
<line x1="439.20" y1="1547.30" x2="471.20" y2="1547.30" stroke="#3d58b2" stroke-width="2.4" stroke-linecap="butt"/>
<polyline points="199.50,1367.60 327.40,1348.00 455.20,1486.60" fill="none" stroke="#3d58b2" stroke-width="3.5"/>
<rect x="189.14" y="1357.64" width="20.72" height="19.92" fill="#2a2b79" stroke="#3d58b2" stroke-width="1.4"/>
<rect x="317.04" y="1338.04" width="20.72" height="19.92" fill="#2a2b79" stroke="#3d58b2" stroke-width="1.4"/>
<rect x="444.84" y="1476.64" width="20.72" height="19.92" fill="#2a2b79" stroke="#3d58b2" stroke-width="1.4"/>
<polyline points="199.50,1616.00 327.50,1577.00 455.20,1639.00" fill="none" stroke="#a3181c" stroke-width="3.6"/>
<line x1="183.20" y1="1616.00" x2="215.80" y2="1616.00" stroke="#a3181c" stroke-width="2.7" stroke-linecap="butt"/>
<polygon points="199.50,1600.70 214.40,1616.00 199.50,1631.30 184.60,1616.00" fill="#a3181c"/>
<line x1="311.20" y1="1577.00" x2="343.80" y2="1577.00" stroke="#a3181c" stroke-width="2.7" stroke-linecap="butt"/>
<polygon points="327.50,1561.70 342.40,1577.00 327.50,1592.30 312.60,1577.00" fill="#a3181c"/>
<line x1="438.90" y1="1639.00" x2="471.50" y2="1639.00" stroke="#a3181c" stroke-width="2.7" stroke-linecap="butt"/>
<polygon points="455.20,1623.70 470.10,1639.00 455.20,1654.30 440.30,1639.00" fill="#a3181c"/>
<line x1="544.00" y1="1333.00" x2="613.00" y2="1333.00" stroke="#3d58b2" stroke-width="3.2" stroke-linecap="butt"/>
<line x1="544.00" y1="1415.50" x2="613.00" y2="1415.50" stroke="#a3181c" stroke-width="3.5" stroke-linecap="butt"/>
<text x="599.65 619.72 625.92 638.43 647.15 660.94 674.73 683.44 692.16 705.95" y="1324.50" font-size="22.84" fill="#0c0c0c" stroke="#0c0c0c" stroke-width="0.7">microarray</text>
<text x="600.25 613.99 627.73 635.15" y="1354.50" font-size="22.84" fill="#0c0c0c" stroke="#0c0c0c" stroke-width="0.7">data</text>
<text x="599.65 608.44 622.29 636.14 642.42 651.21 658.74 665.01 685.15" y="1390.50" font-size="22.84" fill="#0c0c0c" stroke="#0c0c0c" stroke-width="0.7">real-time</text>
<text x="599.35 615.77 633.45" y="1420.50" font-size="22.84" fill="#0c0c0c" stroke="#0c0c0c" stroke-width="0.7">PCR</text>
<line x1="866.20" y1="1270.00" x2="1268.80" y2="1270.00" stroke="#9a9a9a" stroke-width="2.9" stroke-linecap="butt"/>
<line x1="1267.80" y1="1270.00" x2="1267.80" y2="1721.00" stroke="#9a9a9a" stroke-width="2.3" stroke-linecap="butt"/>
<line x1="866.80" y1="1269.00" x2="866.80" y2="1721.60" stroke="#161616" stroke-width="1.25" stroke-linecap="butt"/>
<line x1="866.80" y1="1721.00" x2="1268.70" y2="1721.00" stroke="#161616" stroke-width="1.25" stroke-linecap="butt"/>
<text transform="translate(1040.76,1249.50) scale(1.0650,1)" x="0.00 22.90 43.97 68.66 91.55" y="0" font-size="32.40" fill="#0a0a0a" stroke="#0a0a0a" stroke-width="1.1">SFRP5</text>
<line x1="846.01" y1="1292.30" x2="866.80" y2="1292.30" stroke="#161616" stroke-width="2.0" stroke-linecap="butt"/>
<text x="750.81 764.92 779.01 786.70 800.78 814.87 828.96" y="1300.35" font-size="23.03" fill="#0d0d0d" stroke="#0d0d0d" stroke-width="0.3"> 4.0000</text>
<path d="M763 0L583 0L583 1147Q518 1085 412.5 1023Q307 961 223 930L223 1104Q374 1175 487 1276Q600 1377 647 1472L763 1472Z" transform="translate(750.81,1300.35) scale(0.01124,-0.01124)" fill="#0d0d0d" stroke="#0d0d0d" stroke-width="26.7"/>
<line x1="846.01" y1="1350.30" x2="866.80" y2="1350.30" stroke="#161616" stroke-width="2.0" stroke-linecap="butt"/>
<text x="750.81 764.92 779.01 786.70 800.78 814.87 828.96" y="1358.35" font-size="23.03" fill="#0d0d0d" stroke="#0d0d0d" stroke-width="0.3"> 2.0000</text>
<path d="M763 0L583 0L583 1147Q518 1085 412.5 1023Q307 961 223 930L223 1104Q374 1175 487 1276Q600 1377 647 1472L763 1472Z" transform="translate(750.81,1358.35) scale(0.01124,-0.01124)" fill="#0d0d0d" stroke="#0d0d0d" stroke-width="26.7"/>
<line x1="846.01" y1="1408.30" x2="866.80" y2="1408.30" stroke="#161616" stroke-width="2.0" stroke-linecap="butt"/>
<text x="750.81 764.92 779.01 786.70 800.78 814.87 828.96" y="1416.35" font-size="23.03" fill="#0d0d0d" stroke="#0d0d0d" stroke-width="0.3"> 0.0000</text>
<path d="M763 0L583 0L583 1147Q518 1085 412.5 1023Q307 961 223 930L223 1104Q374 1175 487 1276Q600 1377 647 1472L763 1472Z" transform="translate(750.81,1416.35) scale(0.01124,-0.01124)" fill="#0d0d0d" stroke="#0d0d0d" stroke-width="26.7"/>
<line x1="846.01" y1="1466.30" x2="866.80" y2="1466.30" stroke="#161616" stroke-width="2.0" stroke-linecap="butt"/>
<text x="763.94 778.23 786.11 800.39 814.68 828.96" y="1474.35" font-size="23.03" fill="#0d0d0d" stroke="#0d0d0d" stroke-width="0.3">8.0000</text>
<line x1="846.01" y1="1524.40" x2="866.80" y2="1524.40" stroke="#161616" stroke-width="2.0" stroke-linecap="butt"/>
<text x="763.84 778.15 786.05 800.35 814.66 828.96" y="1532.45" font-size="23.03" fill="#0d0d0d" stroke="#0d0d0d" stroke-width="0.3">6.0000</text>
<line x1="846.01" y1="1582.40" x2="866.80" y2="1582.40" stroke="#161616" stroke-width="2.0" stroke-linecap="butt"/>
<text x="764.44 778.63 786.41 800.59 814.78 828.96" y="1590.45" font-size="23.03" fill="#0d0d0d" stroke="#0d0d0d" stroke-width="0.3">4.0000</text>
<line x1="846.01" y1="1640.40" x2="866.80" y2="1640.40" stroke="#161616" stroke-width="2.0" stroke-linecap="butt"/>
<text x="763.84 778.15 786.05 800.35 814.66 828.96" y="1648.45" font-size="23.03" fill="#0d0d0d" stroke="#0d0d0d" stroke-width="0.3">2.0000</text>
<line x1="846.01" y1="1698.50" x2="866.80" y2="1698.50" stroke="#161616" stroke-width="2.0" stroke-linecap="butt"/>
<text x="764.14 778.39 786.23 800.47 814.72 828.96" y="1706.55" font-size="23.03" fill="#0d0d0d" stroke="#0d0d0d" stroke-width="0.3">0.0000</text>
<line x1="946.40" y1="1721.00" x2="946.40" y2="1741.79" stroke="#161616" stroke-width="2.0" stroke-linecap="butt"/>
<text x="924.64 938.80 952.95" y="1767.00" font-size="23.03" fill="#0d0d0d" stroke="#0d0d0d" stroke-width="0.3"> 3w</text>
<path d="M763 0L583 0L583 1147Q518 1085 412.5 1023Q307 961 223 930L223 1104Q374 1175 487 1276Q600 1377 647 1472L763 1472Z" transform="translate(924.64,1767.00) scale(0.01124,-0.01124)" fill="#0d0d0d" stroke="#0d0d0d" stroke-width="26.7"/>
<line x1="1066.80" y1="1721.00" x2="1066.80" y2="1741.79" stroke="#161616" stroke-width="2.0" stroke-linecap="butt"/>
<text x="1045.04 1059.20 1073.35" y="1767.00" font-size="23.03" fill="#0d0d0d" stroke="#0d0d0d" stroke-width="0.3"> 6w</text>
<path d="M763 0L583 0L583 1147Q518 1085 412.5 1023Q307 961 223 930L223 1104Q374 1175 487 1276Q600 1377 647 1472L763 1472Z" transform="translate(1045.04,1767.00) scale(0.01124,-0.01124)" fill="#0d0d0d" stroke="#0d0d0d" stroke-width="26.7"/>
<line x1="1187.00" y1="1721.00" x2="1187.00" y2="1741.79" stroke="#161616" stroke-width="2.0" stroke-linecap="butt"/>
<text x="1161.76 1175.50 1189.24 1202.98 1209.04" y="1767.00" font-size="23.03" fill="#0d0d0d" stroke="#0d0d0d" stroke-width="0.3">adult</text>
<line x1="946.50" y1="1307.40" x2="946.50" y2="1332.60" stroke="#3d58b2" stroke-width="2.2" stroke-linecap="butt"/>
<line x1="939.00" y1="1307.40" x2="954.00" y2="1307.40" stroke="#3d58b2" stroke-width="2.2" stroke-linecap="butt"/>
<line x1="939.00" y1="1332.60" x2="954.00" y2="1332.60" stroke="#3d58b2" stroke-width="2.2" stroke-linecap="butt"/>
<line x1="1066.60" y1="1306.30" x2="1066.60" y2="1330.40" stroke="#3d58b2" stroke-width="2.2" stroke-linecap="butt"/>
<line x1="1059.10" y1="1306.30" x2="1074.10" y2="1306.30" stroke="#3d58b2" stroke-width="2.2" stroke-linecap="butt"/>
<line x1="1059.10" y1="1330.40" x2="1074.10" y2="1330.40" stroke="#3d58b2" stroke-width="2.2" stroke-linecap="butt"/>
<line x1="1187.50" y1="1410.90" x2="1187.50" y2="1439.30" stroke="#3d58b2" stroke-width="2.2" stroke-linecap="butt"/>
<line x1="1180.00" y1="1410.90" x2="1195.00" y2="1410.90" stroke="#3d58b2" stroke-width="2.2" stroke-linecap="butt"/>
<line x1="1180.00" y1="1439.30" x2="1195.00" y2="1439.30" stroke="#3d58b2" stroke-width="2.2" stroke-linecap="butt"/>
<polyline points="946.50,1319.80 1066.60,1318.60 1187.50,1424.50" fill="none" stroke="#3d58b2" stroke-width="1.5"/>
<rect x="936.00" y="1309.70" width="20.99" height="20.19" fill="#2a2b79" stroke="#3d58b2" stroke-width="1.4"/>
<rect x="1056.10" y="1308.50" width="20.99" height="20.19" fill="#2a2b79" stroke="#3d58b2" stroke-width="1.4"/>
<rect x="1177.00" y="1414.40" width="20.99" height="20.19" fill="#2a2b79" stroke="#3d58b2" stroke-width="1.4"/>
<polyline points="946.50,1637.90 1066.60,1620.20 1187.30,1670.00" fill="none" stroke="#a3181c" stroke-width="3.6"/>
<polygon points="946.50,1622.30 961.70,1637.90 946.50,1653.50 931.30,1637.90" fill="#a3181c"/>
<polygon points="1066.60,1604.60 1081.80,1620.20 1066.60,1635.80 1051.40,1620.20" fill="#a3181c"/>
<polygon points="1187.30,1654.40 1202.50,1670.00 1187.30,1685.60 1172.10,1670.00" fill="#a3181c"/>
<line x1="1285.10" y1="1334.20" x2="1355.50" y2="1334.20" stroke="#3d58b2" stroke-width="1.7" stroke-linecap="butt"/>
<line x1="1285.10" y1="1417.60" x2="1355.50" y2="1417.60" stroke="#a3181c" stroke-width="3.8" stroke-linecap="butt"/>
<text x="1342.25 1362.68 1368.99 1381.73 1390.60 1404.64 1418.67 1427.54 1436.42 1450.45" y="1325.80" font-size="23.13" fill="#0c0c0c" stroke="#0c0c0c" stroke-width="0.7">microarray</text>
<text x="1342.85 1356.73 1370.60 1378.05" y="1356.60" font-size="23.13" fill="#0c0c0c" stroke="#0c0c0c" stroke-width="0.7">data</text>
<text x="1342.25 1351.10 1365.11 1379.12 1385.42 1394.27 1401.85 1408.15 1428.55" y="1392.40" font-size="23.13" fill="#0c0c0c" stroke="#0c0c0c" stroke-width="0.7">real-time</text>
<text x="1341.95 1358.71 1376.75" y="1423.70" font-size="23.13" fill="#0c0c0c" stroke="#0c0c0c" stroke-width="0.7">PCR</text>
<line x1="109.00" y1="1871.60" x2="479.90" y2="1871.60" stroke="#4a4a4a" stroke-width="1.3" stroke-linecap="butt"/>
<line x1="479.30" y1="1871.60" x2="479.30" y2="2299.40" stroke="#4a4a4a" stroke-width="1.3" stroke-linecap="butt"/>
<line x1="109.60" y1="1870.60" x2="109.60" y2="2300.00" stroke="#161616" stroke-width="1.25" stroke-linecap="butt"/>
<line x1="109.60" y1="2299.40" x2="480.20" y2="2299.40" stroke="#161616" stroke-width="1.25" stroke-linecap="butt"/>
<text transform="translate(260.45,1849.10) scale(1.0650,1)" x="0.00 23.00 40.88 63.88 86.88 104.76" y="0" font-size="30.91" fill="#0a0a0a" stroke="#0a0a0a" stroke-width="1.1">CLDN 9</text>
<path d="M763 0L583 0L583 1147Q518 1085 412.5 1023Q307 961 223 930L223 1104Q374 1175 487 1276Q600 1377 647 1472L763 1472Z" transform="translate(352.98,1849.10) scale(0.01607,-0.01509)" fill="#0a0a0a" stroke="#0a0a0a" stroke-width="72.9"/>
<line x1="89.77" y1="1892.60" x2="109.60" y2="1892.60" stroke="#161616" stroke-width="2.0" stroke-linecap="butt"/>
<text x="-0.56 12.86 26.30 33.61 47.05 60.48 73.92" y="1900.28" font-size="21.97" fill="#0d0d0d" stroke="#0d0d0d" stroke-width="0.3"> 4.0000</text>
<path d="M763 0L583 0L583 1147Q518 1085 412.5 1023Q307 961 223 930L223 1104Q374 1175 487 1276Q600 1377 647 1472L763 1472Z" transform="translate(-0.56,1900.28) scale(0.01073,-0.01073)" fill="#0d0d0d" stroke="#0d0d0d" stroke-width="28.0"/>
<line x1="89.77" y1="1957.00" x2="109.60" y2="1957.00" stroke="#161616" stroke-width="2.0" stroke-linecap="butt"/>
<text x="-0.56 12.86 26.30 33.61 47.05 60.48 73.92" y="1964.68" font-size="21.97" fill="#0d0d0d" stroke="#0d0d0d" stroke-width="0.3"> 2.0000</text>
<path d="M763 0L583 0L583 1147Q518 1085 412.5 1023Q307 961 223 930L223 1104Q374 1175 487 1276Q600 1377 647 1472L763 1472Z" transform="translate(-0.56,1964.68) scale(0.01073,-0.01073)" fill="#0d0d0d" stroke="#0d0d0d" stroke-width="28.0"/>
<line x1="89.77" y1="2021.30" x2="109.60" y2="2021.30" stroke="#161616" stroke-width="2.0" stroke-linecap="butt"/>
<text x="-0.56 12.86 26.30 33.61 47.05 60.48 73.92" y="2028.98" font-size="21.97" fill="#0d0d0d" stroke="#0d0d0d" stroke-width="0.3"> 0.0000</text>
<path d="M763 0L583 0L583 1147Q518 1085 412.5 1023Q307 961 223 930L223 1104Q374 1175 487 1276Q600 1377 647 1472L763 1472Z" transform="translate(-0.56,2028.98) scale(0.01073,-0.01073)" fill="#0d0d0d" stroke="#0d0d0d" stroke-width="28.0"/>
<line x1="89.77" y1="2085.60" x2="109.60" y2="2085.60" stroke="#161616" stroke-width="2.0" stroke-linecap="butt"/>
<text x="12.02 25.62 33.10 46.71 60.32 73.92" y="2093.28" font-size="21.97" fill="#0d0d0d" stroke="#0d0d0d" stroke-width="0.3">8.0000</text>
<line x1="89.77" y1="2150.00" x2="109.60" y2="2150.00" stroke="#161616" stroke-width="2.0" stroke-linecap="butt"/>
<text x="11.82 25.46 32.98 46.63 60.28 73.92" y="2157.68" font-size="21.97" fill="#0d0d0d" stroke="#0d0d0d" stroke-width="0.3">6.0000</text>
<line x1="89.77" y1="2214.30" x2="109.60" y2="2214.30" stroke="#161616" stroke-width="2.0" stroke-linecap="butt"/>
<text x="12.42 25.94 33.34 46.87 60.40 73.92" y="2221.98" font-size="21.97" fill="#0d0d0d" stroke="#0d0d0d" stroke-width="0.3">4.0000</text>
<line x1="89.77" y1="2278.60" x2="109.60" y2="2278.60" stroke="#161616" stroke-width="2.0" stroke-linecap="butt"/>
<text x="11.82 25.46 32.98 46.63 60.28 73.92" y="2286.28" font-size="21.97" fill="#0d0d0d" stroke="#0d0d0d" stroke-width="0.3">2.0000</text>
<line x1="183.10" y1="2299.40" x2="183.10" y2="2319.23" stroke="#161616" stroke-width="2.0" stroke-linecap="butt"/>
<text x="161.24 174.69 188.16" y="2342.80" font-size="21.97" fill="#0d0d0d" stroke="#0d0d0d" stroke-width="0.3"> 3w</text>
<path d="M763 0L583 0L583 1147Q518 1085 412.5 1023Q307 961 223 930L223 1104Q374 1175 487 1276Q600 1377 647 1472L763 1472Z" transform="translate(161.24,2342.80) scale(0.01073,-0.01073)" fill="#0d0d0d" stroke="#0d0d0d" stroke-width="28.0"/>
<line x1="294.00" y1="2299.40" x2="294.00" y2="2319.23" stroke="#161616" stroke-width="2.0" stroke-linecap="butt"/>
<text x="272.14 285.59 299.06" y="2342.80" font-size="21.97" fill="#0d0d0d" stroke="#0d0d0d" stroke-width="0.3"> 6w</text>
<path d="M763 0L583 0L583 1147Q518 1085 412.5 1023Q307 961 223 930L223 1104Q374 1175 487 1276Q600 1377 647 1472L763 1472Z" transform="translate(272.14,2342.80) scale(0.01073,-0.01073)" fill="#0d0d0d" stroke="#0d0d0d" stroke-width="28.0"/>
<line x1="405.00" y1="2299.40" x2="405.00" y2="2319.23" stroke="#161616" stroke-width="2.0" stroke-linecap="butt"/>
<text x="379.78 392.90 406.02 419.15 424.92" y="2342.80" font-size="21.97" fill="#0d0d0d" stroke="#0d0d0d" stroke-width="0.3">adult</text>
<line x1="183.10" y1="1930.20" x2="183.10" y2="1989.00" stroke="#3d58b2" stroke-width="2.6" stroke-linecap="butt"/>
<line x1="169.30" y1="1930.20" x2="196.90" y2="1930.20" stroke="#3d58b2" stroke-width="2.6" stroke-linecap="butt"/>
<line x1="169.30" y1="1989.00" x2="196.90" y2="1989.00" stroke="#3d58b2" stroke-width="2.6" stroke-linecap="butt"/>
<line x1="294.00" y1="1950.50" x2="294.00" y2="2014.50" stroke="#3d58b2" stroke-width="2.6" stroke-linecap="butt"/>
<line x1="280.20" y1="1950.50" x2="307.80" y2="1950.50" stroke="#3d58b2" stroke-width="2.6" stroke-linecap="butt"/>
<line x1="280.20" y1="2014.50" x2="307.80" y2="2014.50" stroke="#3d58b2" stroke-width="2.6" stroke-linecap="butt"/>
<line x1="405.00" y1="2050.00" x2="405.00" y2="2091.50" stroke="#3d58b2" stroke-width="2.6" stroke-linecap="butt"/>
<line x1="391.20" y1="2050.00" x2="418.80" y2="2050.00" stroke="#3d58b2" stroke-width="2.6" stroke-linecap="butt"/>
<line x1="391.20" y1="2091.50" x2="418.80" y2="2091.50" stroke="#3d58b2" stroke-width="2.6" stroke-linecap="butt"/>
<polyline points="183.10,1959.60 294.00,1982.80 405.00,2071.50" fill="none" stroke="#3d58b2" stroke-width="3.5"/>
<rect x="173.09" y="1949.99" width="20.02" height="19.22" fill="#3f59b3" stroke="#3d58b2" stroke-width="1.4"/>
<rect x="283.99" y="1973.19" width="20.02" height="19.22" fill="#3f59b3" stroke="#3d58b2" stroke-width="1.4"/>
<rect x="394.99" y="2061.89" width="20.02" height="19.22" fill="#3f59b3" stroke="#3d58b2" stroke-width="1.4"/>
<polyline points="183.10,2151.00 294.00,2160.10 405.00,2242.50" fill="none" stroke="#a3181c" stroke-width="3.6"/>
<line x1="169.30" y1="2151.00" x2="196.90" y2="2151.00" stroke="#a3181c" stroke-width="2.7" stroke-linecap="butt"/>
<polygon points="183.10,2136.60 197.10,2151.00 183.10,2165.40 169.10,2151.00" fill="#a3181c"/>
<line x1="280.20" y1="2160.10" x2="307.80" y2="2160.10" stroke="#a3181c" stroke-width="2.7" stroke-linecap="butt"/>
<polygon points="294.00,2145.70 308.00,2160.10 294.00,2174.50 280.00,2160.10" fill="#a3181c"/>
<line x1="391.20" y1="2242.50" x2="418.80" y2="2242.50" stroke="#a3181c" stroke-width="2.7" stroke-linecap="butt"/>
<polygon points="405.00,2228.10 419.00,2242.50 405.00,2256.90 391.00,2242.50" fill="#a3181c"/>
<line x1="476.60" y1="1936.00" x2="543.00" y2="1936.00" stroke="#3d58b2" stroke-width="3.2" stroke-linecap="butt"/>
<line x1="476.60" y1="2000.50" x2="543.00" y2="2000.50" stroke="#a3181c" stroke-width="3.5" stroke-linecap="butt"/>
<text x="530.35 549.75 555.72 567.80 576.20 589.51 602.83 611.23 619.64 632.95" y="1927.60" font-size="22.06" fill="#0c0c0c" stroke="#0c0c0c" stroke-width="0.7">microarray</text>
<text x="530.85 544.16 557.47 564.65" y="1957.10" font-size="22.06" fill="#0c0c0c" stroke="#0c0c0c" stroke-width="0.7">data</text>
<text x="530.35 539.01 552.58 566.15 572.37 579.82 587.27 593.49 613.15" y="1991.20" font-size="22.06" fill="#0c0c0c" stroke="#0c0c0c" stroke-width="0.7">real time</text>
<text x="529.95 546.14 563.55" y="2021.00" font-size="22.06" fill="#0c0c0c" stroke="#0c0c0c" stroke-width="0.7">PCR</text>
</g>
<defs><filter id="soft" x="0" y="0" width="100%" height="100%" filterUnits="userSpaceOnUse"><feGaussianBlur stdDeviation="0.75"/></filter></defs>
</svg>
</body></html>
